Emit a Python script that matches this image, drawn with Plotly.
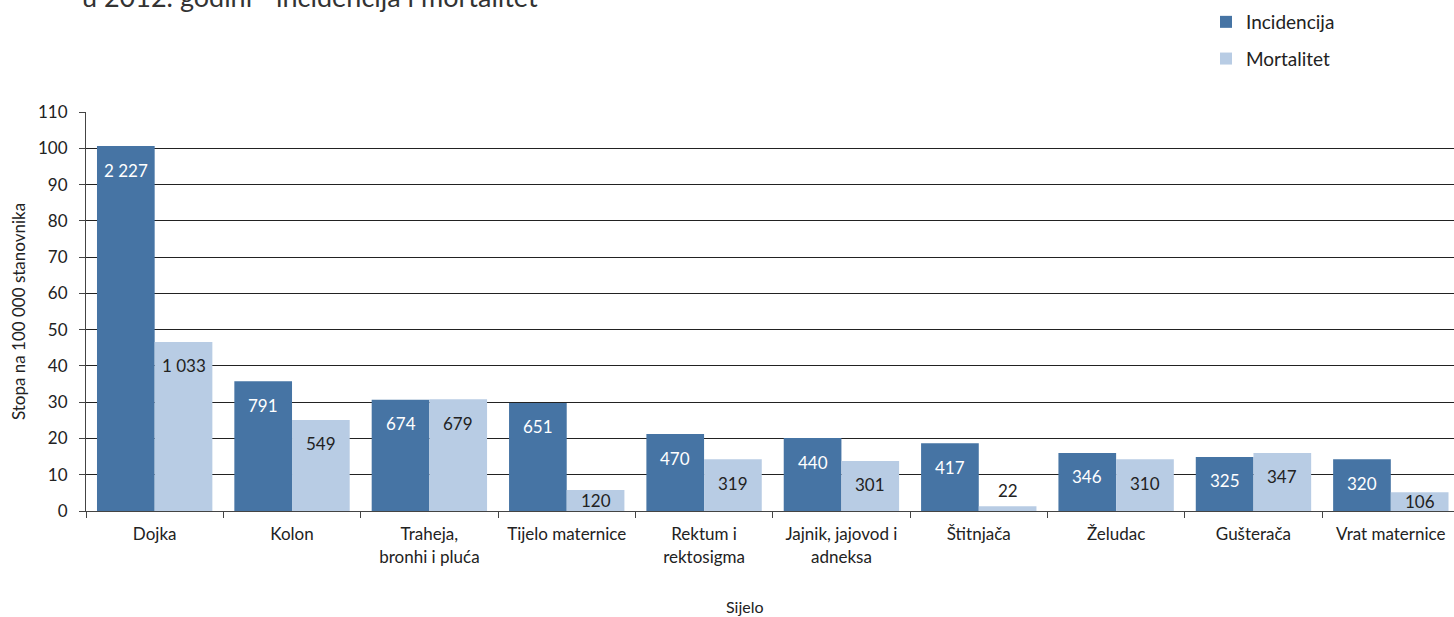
import plotly.graph_objects as go

# sites (x categories), rates per 100 000 and case/death counts shown as labels
sites = ["Dojka", "Kolon", "Traheja,<br>bronhi i pluća", "Tijelo maternice",
         "Rektum i<br>rektosigma", "Jajnik, jajovod i<br>adneksa", "Štitnjača",
         "Želudac", "Gušterača", "Vrat maternice"]
inc_rate = [100.6, 35.8, 30.7, 29.8, 21.2, 20.1, 18.7, 16.0, 14.9, 14.3]
mort_rate = [46.6, 25.1, 30.8, 5.8, 14.3, 13.8, 1.3, 14.3, 16.0, 5.2]
inc_count = ["2 227", "791", "674", "651", "470", "440", "417", "346", "325", "320"]
mort_count = ["1 033", "549", "679", "120", "319", "301", "22", "310", "347", "106"]

DARK = "#4674a4"
LIGHT = "#b8cce4"
FONT = "Lato"
TXT = "#222222"

L, R, T, B = 86, 0, 112, 106
W, H = 1454, 617
plot_h = H - T - B
YMAX = 110
px_per_unit = plot_h / YMAX

fig = go.Figure()
fig.add_trace(go.Bar(x=sites, y=inc_rate, name="Incidencija",
                     marker=dict(color=DARK, line=dict(width=0)),
                     legendgroup="inc"))
fig.add_trace(go.Bar(x=sites, y=mort_rate, name="Mortalitet",
                     marker=dict(color=LIGHT, line=dict(width=0)),
                     legendgroup="mort"))

# value labels: 24 px under the bar top, centred in short bars, above tiny ones
half = 0.21
for series, counts, dx, col in [(inc_rate, inc_count, -half, "white"),
                                (mort_rate, mort_count, half, TXT)]:
    for i, (v, c) in enumerate(zip(series, counts)):
        hpx = v * px_per_unit
        if hpx > 40:
            shift, color = -24, col
        elif hpx > 12:
            shift, color = -hpx / 2, col
        else:
            shift, color = 16, TXT
        fig.add_annotation(x=i + dx, y=v, xref="x", yref="y", text=c,
                           showarrow=False, yshift=shift,
                           font=dict(family=FONT, size=17, color=color))

# title is cut off by the top edge in the source image
fig.add_annotation(text="u 2012. godini - incidencija i mortalitet",
                   xref="paper", yref="paper",
                   x=(80 - L) / (W - L - R), y=(H - B + 3) / plot_h,
                   xanchor="left", yanchor="middle", showarrow=False,
                   font=dict(family=FONT, size=27, color="#333333"))
fig.add_annotation(text="Sijelo", xref="paper", yref="paper",
                   x=(745 - L) / (W - L - R), y=(H - B - 606) / plot_h,
                   xanchor="center", yanchor="middle", showarrow=False,
                   font=dict(family=FONT, size=16, color=TXT))

fig.update_layout(
    width=W, height=H,
    margin=dict(l=L, r=R, t=T, b=B),
    paper_bgcolor="white", plot_bgcolor="white",
    barmode="group", bargap=0.16, bargroupgap=0,
    font=dict(family=FONT, size=16, color=TXT),
    showlegend=True,
    legend=dict(x=(1206 - L) / (W - L - R), y=(H - B - 3) / plot_h,
                xanchor="left", yanchor="top",
                font=dict(family=FONT, size=19, color=TXT),
                tracegroupgap=9, traceorder="grouped",
                bgcolor="rgba(0,0,0,0)"),
    xaxis=dict(range=[-0.5, 9.46], tickson="boundaries", ticks="outside",
               ticklen=6, tickcolor="#444", showline=True, linecolor="#444",
               linewidth=1, showgrid=False, ticklabelstandoff=8,
               tickfont=dict(family=FONT, size=17, color=TXT)),
    yaxis=dict(range=[0, YMAX], dtick=10, ticks="outside", ticklen=6,
               tickcolor="#444", showline=True, linecolor="#444",
               gridcolor="#222222", gridwidth=1, ticklabelstandoff=8,
               tickfont=dict(family=FONT, size=17, color=TXT),
               title=dict(text="Stopa na 100 000 stanovnika", standoff=8,
                          font=dict(family=FONT, size=17, color=TXT))),
)

fig.write_html("out.html", config={"displayModeBar": False},
               post_script="document.body.style.margin='0';")
